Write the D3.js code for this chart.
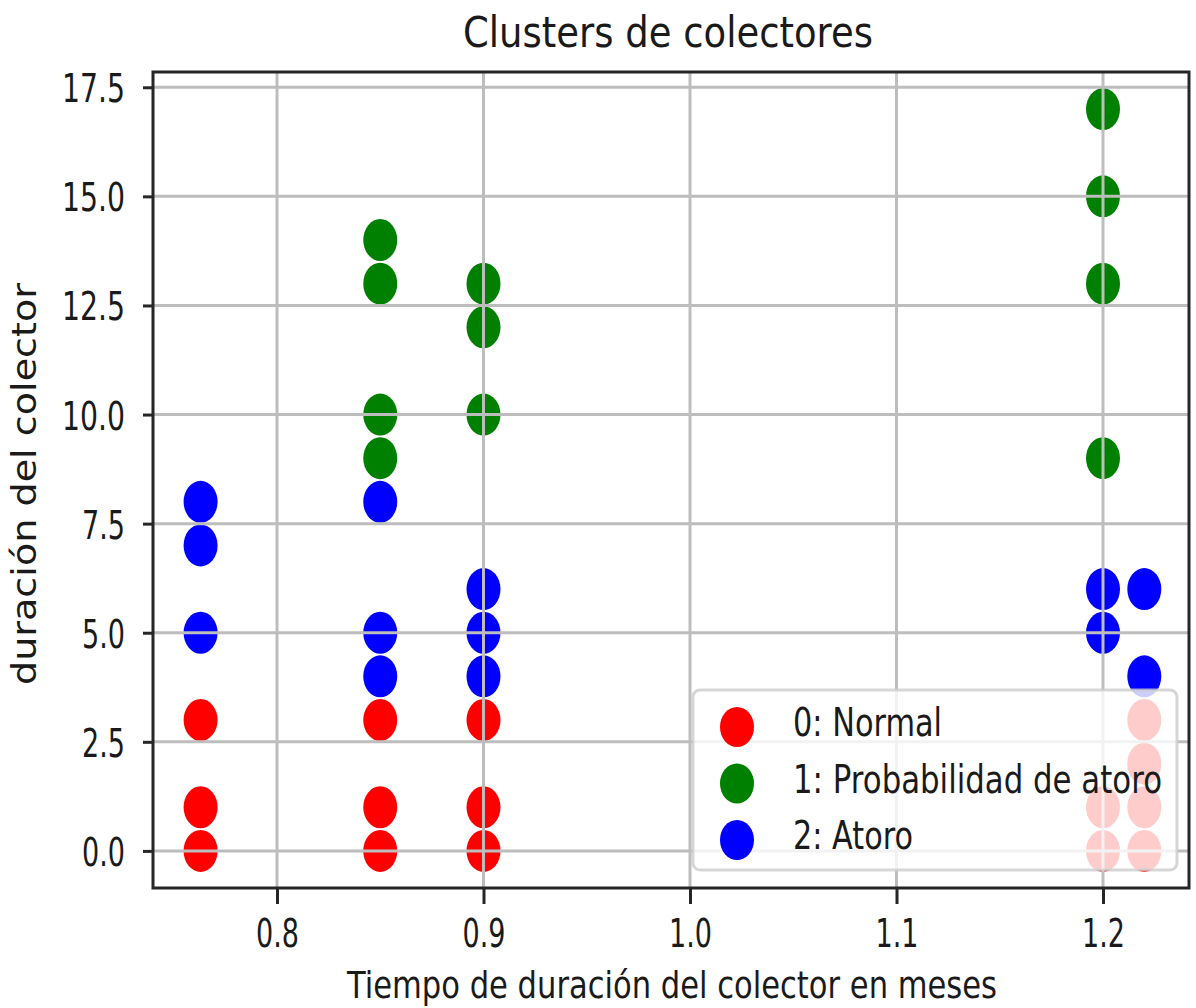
<!DOCTYPE html>
<html>
<head>
<meta charset="utf-8">
<script src="https://cdn.jsdelivr.net/npm/d3@7"></script>
<style>
body { margin: 0; background: #fff; }
text { font-family: "DejaVu Sans", sans-serif; fill: #1a1a1a; }
</style>
</head>
<body>
<div id="chart"></div>
<script>
// cluster labels
const clusterNames = ["0: Normal", "1: Probabilidad de atoro", "2: Atoro"];
const clusterColors = ["#ff0000", "#008000", "#0000ff"];

// 0: Normal
const normalX = [0.763, 0.763, 0.763, 0.85, 0.85, 0.85, 0.9, 0.9, 0.9, 1.2, 1.2, 1.22, 1.22, 1.22, 1.22];
const normalY = [0, 1, 3, 0, 1, 3, 0, 1, 3, 0, 1, 0, 1, 2, 3];
// 1: Probabilidad de atoro
const probX = [0.85, 0.85, 0.85, 0.85, 0.9, 0.9, 0.9, 1.2, 1.2, 1.2, 1.2];
const probY = [9, 10, 13, 14, 10, 12, 13, 9, 13, 15, 17];
// 2: Atoro
const atoroX = [0.763, 0.763, 0.763, 0.85, 0.85, 0.85, 0.9, 0.9, 0.9, 1.2, 1.2, 1.22, 1.22];
const atoroY = [5, 7, 8, 4, 5, 8, 4, 5, 6, 5, 6, 4, 6];

const xTicks = [0.8, 0.9, 1.0, 1.1, 1.2];
const yTicks = [0, 2.5, 5, 7.5, 10, 12.5, 15, 17.5];

const margin = {top: 72, right: 7, bottom: 120, left: 153},
    width = 1196 - margin.left - margin.right,
    height = 1008 - margin.top - margin.bottom;

const root = d3.select("#chart")
    .append("svg")
    .attr("width", 1196)
    .attr("height", 1008);

const svg = root.append("g")
    .attr("transform", `translate(${margin.left},${margin.top})`);

const xScale = d3.scaleLinear()
    .domain([0.73995, 1.24165])
    .range([0, width]);

const yScale = d3.scaleLinear()
    .domain([-0.85, 17.85])
    .range([height, 0]);

const fmt = d3.format(".1f");

const series = [
    {name: clusterNames[0], xs: normalX, ys: normalY},
    {name: clusterNames[1], xs: probX, ys: probY},
    {name: clusterNames[2], xs: atoroX, ys: atoroY}
];

// points
series.forEach((s, i) => {
    svg.append("g")
        .selectAll("ellipse")
        .data(s.xs.map((x, j) => ({x: x, y: s.ys[j]})))
        .join("ellipse")
        .attr("cx", d => xScale(d.x))
        .attr("cy", d => yScale(d.y))
        .attr("rx", 17)
        .attr("ry", 21)
        .attr("fill", clusterColors[i]);
});

// grid sits above the points, like the original
const grid = svg.append("g")
    .attr("stroke", "#bdbdbd")
    .attr("stroke-width", 3);
grid.selectAll(".gx")
    .data(xTicks)
    .join("line")
    .attr("x1", d => xScale(d)).attr("x2", d => xScale(d))
    .attr("y1", 0).attr("y2", height);
grid.selectAll(".gy")
    .data(yTicks)
    .join("line")
    .attr("y1", d => yScale(d)).attr("y2", d => yScale(d))
    .attr("x1", 0).attr("x2", width);

// axes
const xAxis = svg.append("g")
    .attr("transform", `translate(0, ${height})`)
    .call(d3.axisBottom(xScale).tickValues(xTicks).tickFormat(fmt).tickSize(16).tickPadding(0));
xAxis.select(".domain").remove();
xAxis.selectAll(".tick line").attr("stroke", "#262626").attr("stroke-width", 3);
xAxis.selectAll(".tick text")
    .attr("y", 59).attr("dy", null)
    .attr("font-size", 39)
    .attr("fill", "#1a1a1a")
    .attr("textLength", 43)
    .attr("lengthAdjust", "spacingAndGlyphs");

const yAxis = svg.append("g")
    .call(d3.axisLeft(yScale).tickValues(yTicks).tickFormat(fmt).tickSize(10).tickPadding(0));
yAxis.select(".domain").remove();
yAxis.selectAll(".tick line").attr("stroke", "#262626").attr("stroke-width", 3);
yAxis.selectAll(".tick text")
    .attr("x", -28).attr("dy", 14.5)
    .attr("font-size", 39)
    .attr("fill", "#1a1a1a")
    .attr("textLength", d => fmt(d).length > 3 ? 63 : 43)
    .attr("lengthAdjust", "spacingAndGlyphs");

// spines
svg.append("rect")
    .attr("width", width)
    .attr("height", height)
    .attr("fill", "none")
    .attr("stroke", "#262626")
    .attr("stroke-width", 3);

// title and labels
root.append("text")
    .attr("x", 668).attr("y", 47)
    .attr("text-anchor", "middle")
    .attr("font-size", 42)
    .attr("textLength", 410)
    .attr("lengthAdjust", "spacingAndGlyphs")
    .text("Clusters de colectores");

root.append("text")
    .attr("x", 672).attr("y", 998)
    .attr("text-anchor", "middle")
    .attr("font-size", 38)
    .attr("textLength", 650)
    .attr("lengthAdjust", "spacingAndGlyphs")
    .text("Tiempo de duración del colector en meses");

root.append("text")
    .attr("transform", "translate(36, 484) rotate(-90)")
    .attr("text-anchor", "middle")
    .attr("font-size", 33)
    .attr("textLength", 402)
    .attr("lengthAdjust", "spacingAndGlyphs")
    .text("duración del colector");

// legend
const legend = root.append("g");
legend.append("rect")
    .attr("x", 693).attr("y", 690)
    .attr("width", 484).attr("height", 180)
    .attr("rx", 7)
    .attr("fill", "#fff").attr("fill-opacity", 0.8)
    .attr("stroke", "#cccccc").attr("stroke-opacity", 0.8)
    .attr("stroke-width", 3);

const legendWidths = [149, 369, 120];
const item = legend.selectAll(".item")
    .data(clusterNames)
    .join("g")
    .attr("transform", (d, i) => `translate(737, ${727 + i * 56.5})`);
item.append("ellipse")
    .attr("rx", 17).attr("ry", 20)
    .attr("fill", (d, i) => clusterColors[i]);
item.append("text")
    .attr("x", 56).attr("y", 9)
    .attr("font-size", 39)
    .attr("textLength", (d, i) => legendWidths[i])
    .attr("lengthAdjust", "spacingAndGlyphs")
    .text(d => d);
</script>
</body>
</html>
